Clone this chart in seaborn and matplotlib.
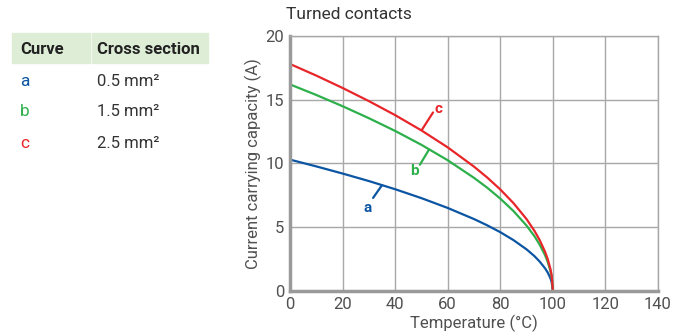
import pandas as pd
import matplotlib.pyplot as plt
import matplotlib.patches as mpatches
from matplotlib.ticker import MultipleLocator
import seaborn as sns

# Values (curves go to zero at 100 °C)
temperature = [0, 10, 20, 30, 40, 50, 60, 70, 75, 80, 85, 90, 93, 95, 97, 98, 99, 99.5, 100]
current_a = [10.3, 9.77, 9.21, 8.62, 7.98, 7.28, 6.51, 5.64, 5.15, 4.61, 3.99, 3.26, 2.73, 2.30, 1.78, 1.46, 1.03, 0.73, 0.0]
current_b = [16.2, 15.37, 14.49, 13.55, 12.55, 11.46, 10.25, 8.87, 8.10, 7.24, 6.27, 5.12, 4.29, 3.62, 2.81, 2.29, 1.62, 1.15, 0.0]
current_c = [17.8, 16.89, 15.92, 14.89, 13.79, 12.59, 11.26, 9.75, 8.90, 7.96, 6.89, 5.63, 4.71, 3.98, 3.08, 2.52, 1.78, 1.26, 0.0]

curves = ['a', 'b', 'c']
cross_sections = ['0.5 mm²', '1.5 mm²', '2.5 mm²']
colors = {'a': '#0b55a3', 'b': '#2db04b', 'c': '#e8262a'}

# label text position, leader start, leader end (data coords)
labels = {
    'a': ((29.7, 6.5), (31.6, 7.3), (35.0, 8.3)),
    'b': ((47.5, 9.4), (49.4, 9.9), (52.9, 11.1)),
    'c': ((56.3, 14.3), (54.4, 14.0), (50.2, 12.65)),
}

df = pd.concat([
    pd.DataFrame({'Temperature': temperature, 'Current': current_a, 'Curve': 'a'}),
    pd.DataFrame({'Temperature': temperature, 'Current': current_b, 'Curve': 'b'}),
    pd.DataFrame({'Temperature': temperature, 'Current': current_c, 'Curve': 'c'}),
])

sns.set_style('white')
plt.rcParams['font.family'] = ['Roboto', 'DejaVu Sans']
txt = '#505050'
gridc = '#a8a8a8'
narrow = ['Roboto', 'DejaVu Sans']

fig = plt.figure(figsize=(6.77, 3.36), dpi=100)
ax = fig.add_axes([0.4284, 0.134, 0.5436, 0.759])

sns.lineplot(data=df, x='Temperature', y='Current', hue='Curve', palette=colors,
             linewidth=1.6, legend=False, ax=ax, sort=False)

ax.set_xlim(0, 140)
ax.set_ylim(0, 20)
ax.xaxis.set_major_locator(MultipleLocator(20))
ax.xaxis.set_minor_locator(MultipleLocator(10))
ax.yaxis.set_major_locator(MultipleLocator(5))
ax.yaxis.set_minor_locator(MultipleLocator(2.5))
ax.grid(True, which='major', color=gridc, linewidth=1.0)
ax.set_axisbelow(True)
ax.tick_params(which='both', direction='out', color='#9a9a9a', labelcolor=txt, labelsize=12, width=1)
ax.tick_params(which='major', length=0, pad=4)
ax.tick_params(which='minor', length=5)

for side in ['top', 'right']:
    ax.spines[side].set_color(gridc)
    ax.spines[side].set_linewidth(1.0)
for side in ['left', 'bottom']:
    ax.spines[side].set_color('#9a9a9a')
    ax.spines[side].set_linewidth(2.5)

ax.set_xlabel('Temperature (°C)', color=txt, fontsize=12, labelpad=2)
ax.set_ylabel('Current carrying capacity (A)', color=txt, fontsize=12, labelpad=3)
ax.set_title('Turned contacts', loc='left', color='#333333', fontsize=12.5,
             family=narrow, x=-0.01, pad=12)

for name, (tpos, p0, p1) in labels.items():
    ax.plot([p0[0], p1[0]], [p0[1], p1[1]], color=colors[name], linewidth=1.6)
    ax.text(tpos[0], tpos[1], name, color=colors[name], fontsize=11, fontweight='bold',
            ha='center', va='center')

# legend table on the left
header_bg = '#ddedd6'
fig.patches.append(mpatches.Rectangle((12 / 677, 1 - 63 / 336), 78 / 677, 30 / 336,
                                      transform=fig.transFigure, color=header_bg))
fig.patches.append(mpatches.Rectangle((92 / 677, 1 - 63 / 336), 116 / 677, 30 / 336,
                                      transform=fig.transFigure, color=header_bg))
fig.text(20 / 677, 1 - 49 / 336, 'Curve', fontsize=12, fontweight='bold', color='#222222',
         family=narrow, va='center')
fig.text(97 / 677, 1 - 49 / 336, 'Cross section', fontsize=12, fontweight='bold', color='#222222',
         family=narrow, va='center')
row_y = [81, 112, 144]
for name, sec, y in zip(curves, cross_sections, row_y):
    fig.text(20 / 677, 1 - y / 336, name, fontsize=12.5, color=colors[name],
             family=narrow, va='center')
    fig.text(97 / 677, 1 - y / 336, sec, fontsize=12, color='#333333',
             family=narrow, va='center')

fig.savefig('out.png', dpi=100)
